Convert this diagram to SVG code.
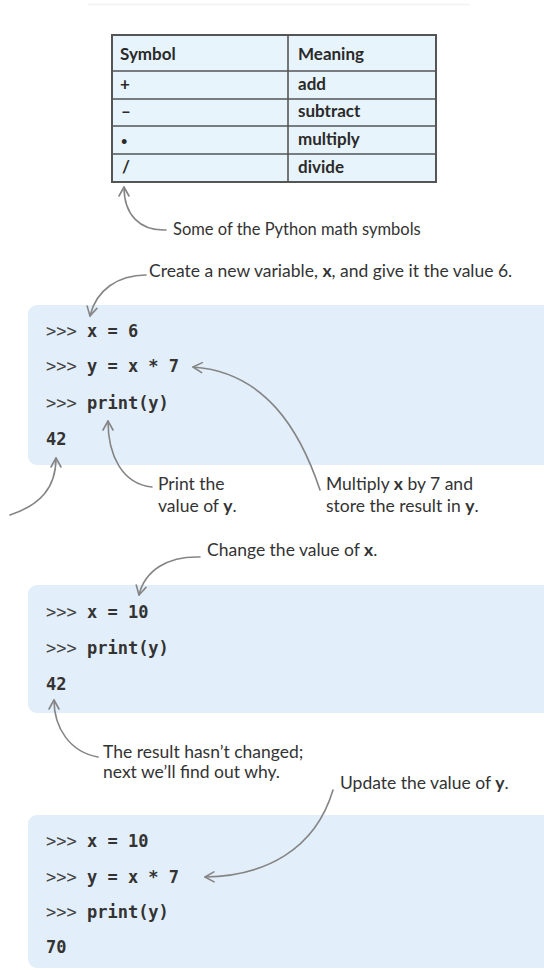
<svg xmlns="http://www.w3.org/2000/svg" width="544" height="970" viewBox="0 0 544 970">
<style>
.cap{font-family:Lato,"Liberation Sans",sans-serif;font-size:17.5px;fill:#333}
.cap b,.b{font-weight:bold}
.th{font-family:Lato,"Liberation Sans",sans-serif;font-size:17px;font-weight:bold;fill:#2a2a2a}
.code{font-family:"DejaVu Sans Mono","Liberation Mono",monospace;font-size:17px;font-weight:bold;fill:#333}
.pr{font-weight:normal;fill:#444}
.blk{fill:#e2eef9}
.arr{fill:none;stroke:#858585;stroke-width:1.6;stroke-linecap:round}
</style>
<defs>
<marker id="ah" viewBox="0 0 12 12" refX="11" refY="6" markerWidth="12" markerHeight="12" markerUnits="userSpaceOnUse" orient="auto">
<path d="M2,1 L11,6 L2,11" fill="none" stroke="#858585" stroke-width="1.6" stroke-linecap="round" stroke-linejoin="round"/>
</marker>
</defs>
<line x1="88" y1="4.5" x2="470" y2="4.5" stroke="#f2f2f2" stroke-width="1.5"/>
<g id="table">
<rect x="112" y="35" width="324" height="147" fill="#e8f4fb" stroke="#555" stroke-width="2"/>
<g stroke="#555" stroke-width="1.6">
<line x1="288" y1="35" x2="288" y2="182"/>
<line x1="112" y1="71" x2="436" y2="71"/>
<line x1="112" y1="99" x2="436" y2="99"/>
<line x1="112" y1="126" x2="436" y2="126"/>
<line x1="112" y1="154" x2="436" y2="154"/>
</g>
<text class="th" x="120" y="60">Symbol</text>
<text class="th" x="298" y="60">Meaning</text>
<text class="th" x="120" y="90">+</text>
<text class="th" x="298" y="90">add</text>
<text class="th" x="121" y="117">–</text>
<text class="th" x="298" y="117">subtract</text>
<text class="th" x="121" y="145" style="font-size:11px">•</text>
<text class="th" x="298" y="145">multiply</text>
<text class="th" x="122" y="173">/</text>
<text class="th" x="298" y="173">divide</text>
</g>
<g id="block1">
<rect class="blk" x="28" y="305" width="540" height="160" rx="9"/>
<text class="code" x="46" y="337"><tspan class="pr">&gt;&gt;&gt;</tspan> x = 6</text>
<text class="code" x="46" y="372"><tspan class="pr">&gt;&gt;&gt;</tspan> y = x * 7</text>
<text class="code" x="46" y="409"><tspan class="pr">&gt;&gt;&gt;</tspan> print(y)</text>
<text class="code" x="46" y="445">42</text>
</g>
<g id="block2">
<rect class="blk" x="28" y="585" width="540" height="128" rx="9"/>
<text class="code" x="46" y="618"><tspan class="pr">&gt;&gt;&gt;</tspan> x = 10</text>
<text class="code" x="46" y="654"><tspan class="pr">&gt;&gt;&gt;</tspan> print(y)</text>
<text class="code" x="46" y="690">42</text>
</g>
<g id="block3">
<rect class="blk" x="28" y="815" width="540" height="153" rx="9"/>
<text class="code" x="46" y="847"><tspan class="pr">&gt;&gt;&gt;</tspan> x = 10</text>
<text class="code" x="46" y="883"><tspan class="pr">&gt;&gt;&gt;</tspan> y = x * 7</text>
<text class="code" x="46" y="918"><tspan class="pr">&gt;&gt;&gt;</tspan> print(y)</text>
<text class="code" x="46" y="953">70</text>
</g>
<g id="labels">
<text class="cap" x="173" y="235" style="font-size:16.5px">Some of the Python math symbols</text>
<text class="cap" x="149" y="277">Create a new variable, <tspan class="b">x</tspan>, and give it the value 6.</text>
<text class="cap" x="158" y="490">Print the</text>
<text class="cap" x="158" y="512">value of <tspan class="b">y</tspan>.</text>
<text class="cap" x="326" y="490">Multiply <tspan class="b">x</tspan> by 7 and</text>
<text class="cap" x="326" y="512">store the result in <tspan class="b">y</tspan>.</text>
<text class="cap" x="207" y="556">Change the value of <tspan class="b">x</tspan>.</text>
<text class="cap" x="103" y="758">The result hasn’t changed;</text>
<text class="cap" x="103" y="778">next we’ll find out why.</text>
<text class="cap" x="340" y="789">Update the value of <tspan class="b">y</tspan>.</text>
</g>
<g id="connectors">
<path class="arr" marker-end="url(#ah)" d="M166,230 C140,231 124,215 124,187"/>
<path class="arr" marker-end="url(#ah)" d="M146,275 C118,275 96,290 90,316"/>
<path class="arr" marker-end="url(#ah)" d="M320,490 C300,430 265,372 193,367"/>
<path class="arr" marker-end="url(#ah)" d="M152,487 C122,484 108,455 108,421"/>
<path class="arr" marker-end="url(#ah)" d="M10,515 C40,505 56,488 56,458"/>
<path class="arr" marker-end="url(#ah)" d="M200,557 C168,556 145,570 139,595"/>
<path class="arr" marker-end="url(#ah)" d="M98,757 C70,752 54,728 54,700"/>
<path class="arr" marker-end="url(#ah)" d="M333,790 C315,850 265,876 205,877"/>
</g>
</svg>
